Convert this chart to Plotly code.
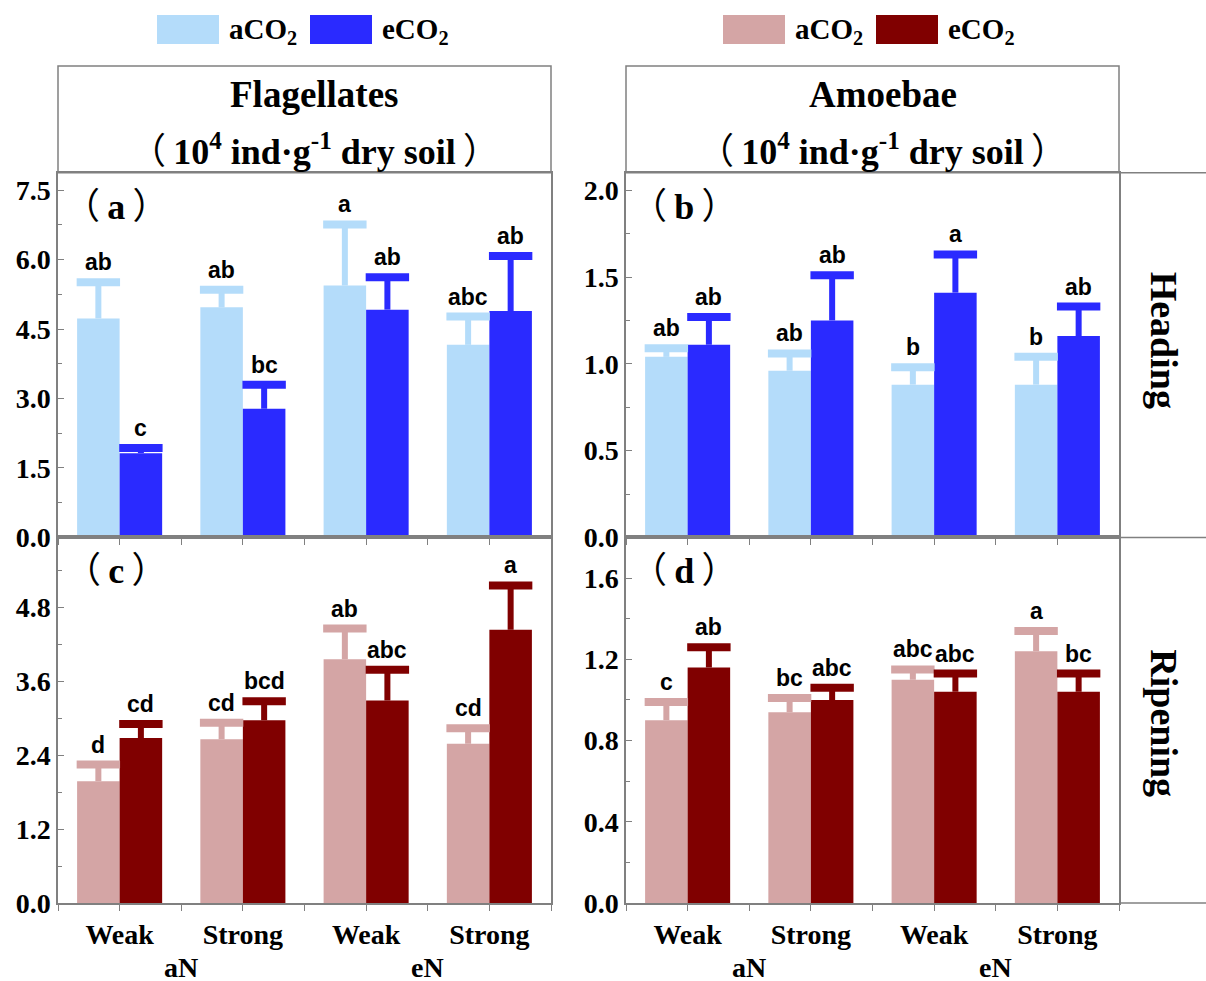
import plotly.graph_objects as go

# ---------------- data ----------------
categories = ["Weak", "Strong", "Weak", "Strong"]
n_levels = ["aN", "eN"]
series_names = ["aCO<sub>2</sub>", "eCO<sub>2</sub>"]

# (a) Flagellates, Heading
flag_head_a_mean = [4.73, 4.97, 5.44, 4.16]
flag_head_a_err = [0.78, 0.38, 1.32, 0.61]
flag_head_e_mean = [1.82, 2.78, 4.92, 4.89]
flag_head_e_err = [0.11, 0.52, 0.70, 1.19]
flag_head_a_sig = ["ab", "ab", "a", "abc"]
flag_head_e_sig = ["c", "bc", "ab", "ab"]

# (b) Amoebae, Heading
amoe_head_a_mean = [1.04, 0.96, 0.88, 0.88]
amoe_head_a_err = [0.05, 0.10, 0.10, 0.16]
amoe_head_e_mean = [1.11, 1.25, 1.41, 1.16]
amoe_head_e_err = [0.16, 0.26, 0.22, 0.17]
amoe_head_a_sig = ["ab", "ab", "b", "b"]
amoe_head_e_sig = ["ab", "ab", "a", "ab"]

# (c) Flagellates, Ripening
flag_ripe_a_mean = [1.98, 2.66, 3.96, 2.59]
flag_ripe_a_err = [0.27, 0.27, 0.50, 0.25]
flag_ripe_e_mean = [2.68, 2.97, 3.29, 4.44]
flag_ripe_e_err = [0.23, 0.31, 0.50, 0.72]
flag_ripe_a_sig = ["d", "cd", "ab", "cd"]
flag_ripe_e_sig = ["cd", "bcd", "abc", "a"]

# (d) Amoebae, Ripening
amoe_ripe_a_mean = [0.90, 0.94, 1.10, 1.24]
amoe_ripe_a_err = [0.09, 0.07, 0.05, 0.10]
amoe_ripe_e_mean = [1.16, 1.00, 1.04, 1.04]
amoe_ripe_e_err = [0.10, 0.06, 0.09, 0.09]
amoe_ripe_a_sig = ["c", "bc", "abc", "a"]
amoe_ripe_e_sig = ["ab", "abc", "abc", "bc"]

# ---------------- style ----------------
W, H = 1206, 981          # design size (reference pixels)
FIG_H = 996               # rendered page height (viewport compensation)
LBLUE, BLUE = "#B4DCFA", "#2A2AFF"
PINK, DRED = "#D4A5A5", "#800000"
GRAY = "#808080"
SERIF = "Liberation Serif, Times New Roman, serif"
SANS = "Liberation Sans, Arial, sans-serif"
CJK = "Noto Sans CJK SC"
BW = 0.345  # bar width (category units)

LP = f"<span style='font-family:{CJK};font-weight:normal'>（\u2009</span>"
RP = f"<span style='font-family:{CJK};font-weight:normal'>\u2009）</span>"


def fx(p):
    return p / W


def fy(p):
    return 1 - p / H


panels = [
    dict(a=(flag_head_a_mean, flag_head_a_err, flag_head_a_sig),
         e=(flag_head_e_mean, flag_head_e_err, flag_head_e_sig),
         cols=(LBLUE, BLUE), ymax=7.875, dtick=1.5, label="a",
         xd=(58, 551), yd=(173, 538), bottom=False),
    dict(a=(amoe_head_a_mean, amoe_head_a_err, amoe_head_a_sig),
         e=(amoe_head_e_mean, amoe_head_e_err, amoe_head_e_sig),
         cols=(LBLUE, BLUE), ymax=2.1, dtick=0.5, label="b",
         xd=(626, 1119), yd=(173, 538), bottom=False),
    dict(a=(flag_ripe_a_mean, flag_ripe_a_err, flag_ripe_a_sig),
         e=(flag_ripe_e_mean, flag_ripe_e_err, flag_ripe_e_sig),
         cols=(PINK, DRED), ymax=5.94, dtick=1.2, label="c",
         xd=(58, 551), yd=(538, 904), bottom=True),
    dict(a=(amoe_ripe_a_mean, amoe_ripe_a_err, amoe_ripe_a_sig),
         e=(amoe_ripe_e_mean, amoe_ripe_e_err, amoe_ripe_e_sig),
         cols=(PINK, DRED), ymax=1.80, dtick=0.4, label="d",
         xd=(626, 1119), yd=(538, 904), bottom=True),
]

fig = go.Figure()
annotations = []
shapes = []
layout_axes = {}


def paper_text(x, y, text, size, family=SERIF, xanchor="center", angle=0):
    return dict(x=fx(x), y=fy(y), xref="paper", yref="paper",
                xanchor=xanchor, yanchor="middle", text=text,
                textangle=angle, showarrow=False,
                font=dict(family=family, size=size, color="black"))


for k, p in enumerate(panels, start=1):
    xr = "x" if k == 1 else f"x{k}"
    yr = "y" if k == 1 else f"y{k}"
    for j, key in enumerate(["a", "e"]):
        mean, err, sig = p[key]
        col = p["cols"][j]
        off = -BW / 2 if j == 0 else BW / 2
        xs = [i + off for i in range(len(categories))]
        caps = [m + e for m, e in zip(mean, err)]
        fig.add_trace(go.Bar(
            x=xs, y=mean, width=BW, marker=dict(color=col, line=dict(width=0)),
            error_y=dict(type="data", array=err, arrayminus=[0] * len(err),
                         symmetric=False, thickness=6, width=0, color=col),
            xaxis=xr, yaxis=yr, showlegend=False, hoverinfo="skip"))
        fig.add_trace(go.Scatter(
            x=xs, y=caps, mode="markers",
            marker=dict(symbol="line-ew", size=31,
                        line=dict(width=8, color=col)),
            xaxis=xr, yaxis=yr, showlegend=False, hoverinfo="skip"))
        for xv, cv, s in zip(xs, caps, sig):
            annotations.append(dict(
                x=xv, y=cv, xref=xr, yref=yr, text=f"<b>{s}</b>",
                showarrow=False, xanchor="center", yanchor="bottom", yshift=5,
                font=dict(family=SANS, size=23, color="black")))

    x0, x1 = p["xd"]
    y0, y1 = p["yd"]
    layout_axes["xaxis" if k == 1 else f"xaxis{k}"] = dict(
        domain=[fx(x0), fx(x1)], anchor=yr, range=[-0.5, 3.5],
        tickmode="array", tickvals=list(range(len(categories))),
        ticktext=[f"<b>{c}</b>" for c in categories],
        showticklabels=p["bottom"],
        ticks="outside", ticklen=6, tickcolor=GRAY, tickwidth=1.2,
        minor=dict(tickmode="array", tickvals=[-0.5, 0.5, 1.5, 2.5, 3.5],
                   ticks="outside", ticklen=6, tickcolor=GRAY),
        showline=True, linecolor=GRAY, linewidth=1.5, mirror=True,
        showgrid=False, zeroline=False,
        tickfont=dict(family=SERIF, size=28, color="black"))
    layout_axes["yaxis" if k == 1 else f"yaxis{k}"] = dict(
        domain=[fy(y1), fy(y0)], anchor=xr, range=[0, p["ymax"]],
        tick0=0, dtick=p["dtick"], tickformat=".1f",
        ticks="inside", ticklen=6, tickcolor=GRAY, tickwidth=1.2,
        minor=dict(dtick=p["dtick"] / 2, ticks="inside", ticklen=4,
                   tickcolor=GRAY),
        showline=True, linecolor=GRAY, linewidth=1.5, mirror=True,
        showgrid=False, zeroline=False,
        tickfont=dict(family=SERIF, size=28, color="black", weight="bold"))
    # panel label
    annotations.append(paper_text(x0 + 58, y0 + 30,
                                  f"{LP}<b>{p['label']}</b>{RP}", 36))
    # N-level labels under bottom panels
    if p["bottom"]:
        for g, lab in enumerate(n_levels):
            annotations.append(dict(
                x=2 * g + 0.5, y=fy(968), xref=xr, yref="paper",
                xanchor="center", yanchor="middle",
                text=f"<b>{lab}</b>", showarrow=False,
                font=dict(family=SERIF, size=28, color="black")))

# header boxes
headers = [("Flagellates", 58, 551), ("Amoebae", 626, 1119)]
for name, x0, x1 in headers:
    shapes.append(dict(type="rect", xref="paper", yref="paper",
                       x0=fx(x0), x1=fx(x1), y0=fy(173), y1=fy(66),
                       line=dict(color=GRAY, width=1.5)))
    cx = (x0 + x1) / 2 + 10
    annotations.append(paper_text(cx, 95, f"<b>{name}</b>", 37))
    annotations.append(paper_text(
        cx, 148,
        f"{LP}<b>10<sup>4</sup> ind·g<sup>-1</sup> dry soil</b>{RP}", 36))

# right strip (stage labels)
for yy in (173, 538, 904):
    shapes.append(dict(type="line", xref="paper", yref="paper",
                       x0=fx(1119), x1=1, y0=fy(yy), y1=fy(yy),
                       line=dict(color=GRAY, width=1.5)))
for lab, yc in (("Heading", 340), ("Ripening", 724)):
    annotations.append(paper_text(1164, yc, f"<b>{lab}</b>", 38, angle=90))

# custom legends
legend_items = [
    (157, 219, LBLUE, series_names[0]), (310, 372, BLUE, series_names[1]),
    (723, 785, PINK, series_names[0]), (876, 938, DRED, series_names[1]),
]
for x0, x1, col, name in legend_items:
    shapes.append(dict(type="rect", xref="paper", yref="paper",
                       x0=fx(x0), x1=fx(x1), y0=fy(44), y1=fy(15),
                       fillcolor=col, line=dict(width=0)))
    annotations.append(paper_text(x1 + 8, 31, f"<b>{name}</b>", 29,
                                  xanchor="left"))

fig.update_layout(
    width=W, height=FIG_H, margin=dict(l=0, r=0, t=0, b=0),
    paper_bgcolor="white", plot_bgcolor="white",
    barmode="overlay", shapes=shapes, annotations=annotations,
    **layout_axes)

fig.write_html(
    "out.html",
    config={"displayModeBar": False},
    post_script=(
        "var d=document.getElementById('{plot_id}');"
        "d.style.position='fixed';d.style.left='0px';d.style.top='0px';"
        "document.body.style.margin='0';"
        "document.documentElement.style.overflow='hidden';"
        "document.body.style.overflow='hidden';"))
